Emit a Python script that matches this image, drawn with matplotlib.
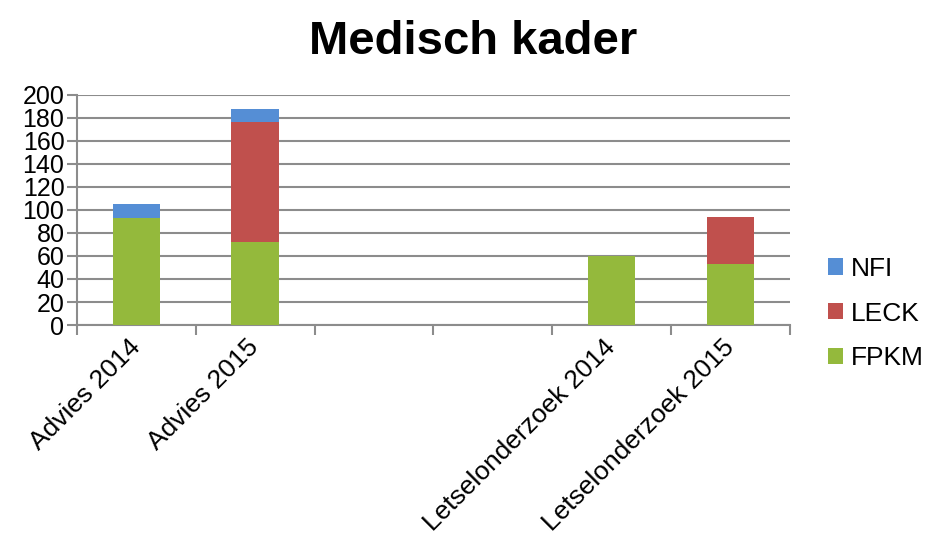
import matplotlib
matplotlib.use("Agg")
import matplotlib.pyplot as plt
import numpy as np

plt.rcParams['font.family'] = ['Liberation Sans', 'DejaVu Sans']

categories = ['Advies 2014', 'Advies 2015', '', '', 'Letselonderzoek 2014', 'Letselonderzoek 2015']
fpkm = [93, 72, 0, 0, 60, 53]
leck = [0, 104, 0, 0, 0, 41]
nfi = [12, 12, 0, 0, 0, 0]

fig = plt.figure(figsize=(9.27, 5.39), dpi=100)
ax = fig.add_axes([0.083, 0.397, 0.769, 0.427])

x = np.arange(len(categories))
w = 0.4
b1 = ax.bar(x, fpkm, w, color='#94B93C', label='FPKM', zorder=3)
b2 = ax.bar(x, leck, w, bottom=fpkm, color='#C0504D', label='LECK', zorder=3)
bottom2 = [a + b for a, b in zip(fpkm, leck)]
b3 = ax.bar(x, nfi, w, bottom=bottom2, color='#558ED5', label='NFI', zorder=3)

ax.set_xlim(-0.5, len(categories) - 0.5)
ax.set_ylim(0, 200)
ax.set_yticks(range(0, 201, 20))
ax.grid(axis='y', color='#8c8c8c', linewidth=1.5, zorder=0)
ax.set_axisbelow(True)

ax.set_xticks(x)
ax.set_xticklabels(categories, rotation=45, ha='right', va='center',
                   rotation_mode='anchor', fontsize=19)
ax.tick_params(axis='x', length=0, pad=13)
ax.set_xticks(np.arange(-0.5, len(categories), 1), minor=True)
ax.tick_params(axis='x', which='minor', length=7, color='#8c8c8c', width=1.5)
ax.tick_params(axis='y', length=7, color='#8c8c8c', width=1.5, labelsize=18, pad=2)

for s in ['top', 'right']:
    ax.spines[s].set_visible(False)
for s in ['left', 'bottom']:
    ax.spines[s].set_color('#8c8c8c')
    ax.spines[s].set_linewidth(1.5)

fig.suptitle('Medisch kader', fontsize=34, fontweight='bold', x=0.51, y=0.962)

handles = [b3, b2, b1]
ax.legend(handles, ['NFI', 'LECK', 'FPKM'], loc='center left', bbox_to_anchor=(1.02, 0.05),
          frameon=False, fontsize=19, handlelength=0.58, handleheight=0.58,
          labelspacing=0.78, handletextpad=0.3)

fig.savefig('out.png', dpi=100)
